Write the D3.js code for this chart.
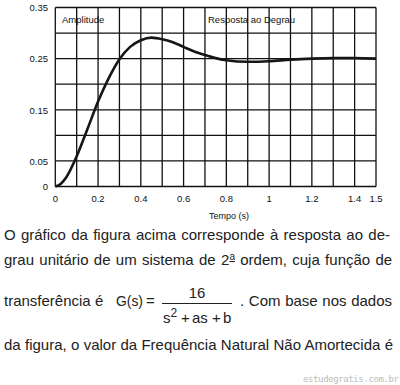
<!DOCTYPE html>
<html>
<head>
<meta charset="utf-8">
<script src="https://cdn.jsdelivr.net/npm/d3@7"></script>
<style>
  body { margin: 0; background: #fff; }
  svg { display: block; font-family: "Liberation Sans", Arial, sans-serif; }
  .grid line { stroke: #111; stroke-width: 1.3; }
  .tick-label { font-size: 9.5px; fill: #111; }
  .para { font-size: 15px; fill: #222; }
</style>
</head>
<body>
<div id="chart"></div>
<script>
// values
const TIME = [0, 0.025, 0.05, 0.1, 0.15, 0.2, 0.25, 0.3, 0.35, 0.4, 0.45, 0.5, 0.55, 0.6, 0.65, 0.7, 0.75, 0.8, 0.9, 1.0, 1.1, 1.2, 1.3, 1.4, 1.5];
const AMPLITUDE = [0, 0.005, 0.017, 0.059, 0.112, 0.166, 0.212, 0.249, 0.273, 0.286, 0.291, 0.288, 0.282, 0.273, 0.264, 0.257, 0.251, 0.247, 0.244, 0.245, 0.248, 0.250, 0.251, 0.251, 0.250];

const X_GRID = d3.range(0, 16).map((i) => i / 10);
const Y_GRID = d3.range(0, 8).map((i) => i * 0.05);
const X_TICK_LABELS = [
  [0, "0"], [0.2, "0.2"], [0.4, "0.4"], [0.6, "0.6"], [0.8, "0.8"],
  [1, "1"], [1.2, "1.2"], [1.4, "1.4"], [1.5, "1.5"]
];
const Y_TICK_LABELS = [
  [0, "0"], [0.05, "0.05"], [0.15, "0.15"], [0.25, "0.25"], [0.35, "0.35"]
];

const WIDTH = 400;
const HEIGHT = 385;
const PLOT = { LEFT: 55.3, RIGHT: 376, TOP: 7.5, BOTTOM: 186.5 };

const SVG = d3.select("#chart").append("svg")
  .attr("width", WIDTH)
  .attr("height", HEIGHT);

SVG.append("rect").attr("width", WIDTH).attr("height", HEIGHT).attr("fill", "#fff");

const X_SCALE = d3.scaleLinear().domain([0, 1.5]).range([PLOT.LEFT, PLOT.RIGHT]);
const Y_SCALE = d3.scaleLinear().domain([0, 0.35]).range([PLOT.BOTTOM, PLOT.TOP]);

const GRID = SVG.append("g").attr("class", "grid");

GRID.selectAll(".vline")
  .data(X_GRID)
  .enter()
  .append("line")
  .attr("class", "vline")
  .attr("x1", (d) => X_SCALE(d))
  .attr("x2", (d) => X_SCALE(d))
  .attr("y1", Y_SCALE(0.35))
  .attr("y2", Y_SCALE(0));

GRID.selectAll(".hline")
  .data(Y_GRID)
  .enter()
  .append("line")
  .attr("class", "hline")
  .attr("x1", X_SCALE(0))
  .attr("x2", X_SCALE(1.5))
  .attr("y1", (d) => Y_SCALE(d))
  .attr("y2", (d) => Y_SCALE(d));

SVG.selectAll(".x-label")
  .data(X_TICK_LABELS)
  .enter()
  .append("text")
  .attr("class", "tick-label x-label")
  .attr("x", (d) => X_SCALE(d[0]))
  .attr("y", 202)
  .attr("text-anchor", "middle")
  .text((d) => d[1]);

SVG.selectAll(".y-label")
  .data(Y_TICK_LABELS)
  .enter()
  .append("text")
  .attr("class", "tick-label y-label")
  .attr("x", 48)
  .attr("y", (d) => Y_SCALE(d[0]))
  .attr("dy", "0.4em")
  .attr("text-anchor", "end")
  .text((d) => d[1]);

SVG.append("text")
  .attr("class", "tick-label")
  .attr("x", 229)
  .attr("y", 219)
  .attr("text-anchor", "middle")
  .style("font-size", "9px")
  .text("Tempo (s)");

SVG.append("text")
  .attr("class", "tick-label")
  .attr("x", 62)
  .attr("y", 23)
  .text("Amplitude");

SVG.append("text")
  .attr("class", "tick-label")
  .attr("x", 208)
  .attr("y", 23)
  .text("Resposta ao Degrau");

const LINE = d3.line()
  .x((d) => X_SCALE(d[0]))
  .y((d) => Y_SCALE(d[1]))
  .curve(d3.curveMonotoneX);

SVG.append("path")
  .datum(TIME.map((t, i) => [t, AMPLITUDE[i]]))
  .attr("d", LINE)
  .attr("fill", "none")
  .attr("stroke", "#161616")
  .attr("stroke-width", 2.6);

// paragraph below the chart, justified by word spacing
function justified(str, x, y, right) {
  const t = SVG.append("text").attr("class", "para").attr("x", x).attr("y", y).text(str);
  const natural = t.node().getComputedTextLength();
  const spaces = (str.match(/ /g) || []).length;
  if (spaces) t.style("word-spacing", ((right - x - natural) / spaces) + "px");
  return t;
}

justified("O gráfico da figura acima corresponde à resposta ao de-", 4, 240, 390);
const LINE2 = SVG.append("text").attr("class", "para").attr("x", 4).attr("y", 265);
LINE2.append("tspan").text("grau unitário de um sistema de 2");
LINE2.append("tspan").attr("dy", -5).style("font-size", "10px").style("text-decoration", "underline").text("a");
LINE2.append("tspan").attr("dy", 5).text(" ordem, cuja função de");
{
  const natural = LINE2.node().getComputedTextLength();
  LINE2.style("word-spacing", ((391 - 4 - natural) / 9) + "px");
}

SVG.append("text").attr("class", "para").attr("x", 4).attr("y", 306).text("transferência é");
SVG.append("text").attr("class", "para").attr("x", 116).attr("y", 306)
  .attr("textLength", 27).attr("lengthAdjust", "spacingAndGlyphs").text("G(s)");
SVG.append("text").attr("class", "para").attr("x", 146).attr("y", 306).text("=");
SVG.append("text").attr("class", "para").attr("x", 197).attr("y", 298).attr("text-anchor", "middle").text("16");
SVG.append("line").attr("x1", 162).attr("x2", 232).attr("y1", 303.5).attr("y2", 303.5)
  .attr("stroke", "#222").attr("stroke-width", 1);
const DEN = SVG.append("text").attr("class", "para").attr("x", 163).attr("y", 323);
DEN.append("tspan").text("s");
DEN.append("tspan").attr("dy", -6).style("font-size", "12px").text("2");
DEN.append("tspan").attr("dy", 6).attr("x", 181).text("+");
DEN.append("tspan").attr("x", 192).text("as");
DEN.append("tspan").attr("x", 212).text("+");
DEN.append("tspan").attr("x", 223).text("b");
justified(". Com base nos dados", 240, 306, 392);

justified("da figura, o valor da Frequência Natural Não Amortecida é", 4, 350, 393);

SVG.append("text")
  .attr("x", 399)
  .attr("y", 382)
  .attr("text-anchor", "end")
  .attr("textLength", 96)
  .attr("lengthAdjust", "spacing")
  .style("font-family", "'DejaVu Sans Mono', monospace")
  .style("font-size", "9px")
  .style("fill", "#bbb")
  .text("estudegratis.com.br");
</script>
</body>
</html>
